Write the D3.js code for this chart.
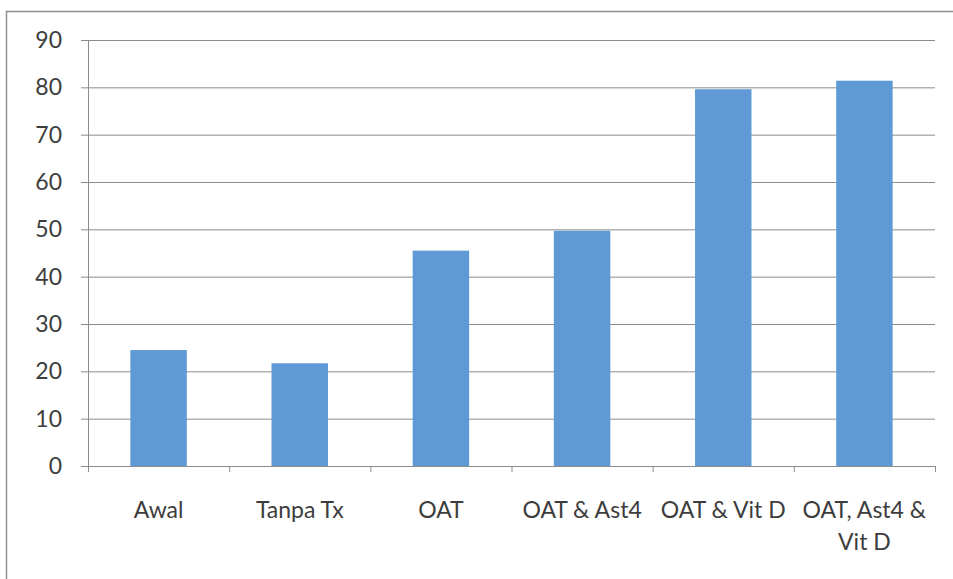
<!DOCTYPE html>
<html>
<head>
<meta charset="utf-8">
<script src="https://cdn.jsdelivr.net/npm/d3@7"></script>
<style>
  html, body { margin: 0; padding: 0; background: #fff; }
  svg { display: block; }
  text { font-family: Lato, "Open Sans", sans-serif; fill: #3d3d3d; }
</style>
</head>
<body>
<svg id="chart" width="953" height="579"></svg>
<script>
// Categories and values
const categories = ["Awal", "Tanpa Tx", "OAT", "OAT & Ast4", "OAT & Vit D", "OAT, Ast4 & Vit D"];
const values = [24.5, 21.7, 45.5, 49.7, 79.6, 81.4];
const yTicks = [0, 10, 20, 30, 40, 50, 60, 70, 80, 90];

const svg = d3.select("#chart");
const W = 953, H = 579;
const margin = { left: 88, right: 18, top: 40, bottom: 113 };

// Outer frame (left and top edges)
svg.append("path")
  .attr("d", `M6.5,${H} L6.5,11.5 L${W},11.5`)
  .attr("fill", "none")
  .attr("stroke", "#8f8f8f")
  .attr("stroke-width", 1.5);

const x = d3.scaleBand()
  .domain(categories)
  .range([margin.left, W - margin.right])
  .paddingInner(0.6)
  .paddingOuter(0.3);

const y = d3.scaleLinear()
  .domain([0, 90])
  .range([H - margin.bottom, margin.top]);

// Horizontal gridlines with left tick labels
const gridLen = W - margin.right - margin.left + 7;
const yAxis = d3.axisLeft(y)
  .tickValues(yTicks)
  .tickSize(0)
  .tickFormat(d3.format("d"));

const gy = svg.append("g")
  .attr("transform", `translate(${margin.left - 7},0)`)
  .call(yAxis);
gy.select(".domain").remove();
gy.selectAll(".tick line")
  .attr("x1", 0)
  .attr("x2", gridLen)
  .attr("stroke", "#8c8c8c")
  .attr("stroke-width", 1);
gy.selectAll(".tick text")
  .attr("font-size", 23)
  .attr("x", -19)
  .style("font-family", "Lato, 'Open Sans', sans-serif")
  .style("fill", "#3d3d3d");

// Vertical axis line
svg.append("line")
  .attr("x1", margin.left + 0.5).attr("x2", margin.left + 0.5)
  .attr("y1", y(90)).attr("y2", y(0))
  .attr("stroke", "#8c8c8c");

// Bars
svg.append("g")
  .selectAll("rect")
  .data(categories)
  .join("rect")
  .attr("x", d => x(d))
  .attr("width", x.bandwidth())
  .attr("y", (d, i) => y(values[i]))
  .attr("height", (d, i) => y(0) - y(values[i]))
  .attr("fill", "#5f9ad6");

// Category axis with boundary ticks
const step = x.step();
const boundaries = d3.range(categories.length + 1).map(i => margin.left + i * (W - margin.right - margin.left) / categories.length);
svg.append("line")
  .attr("x1", margin.left).attr("x2", W - margin.right)
  .attr("y1", y(0) + 0.5).attr("y2", y(0) + 0.5)
  .attr("stroke", "#8c8c8c");
svg.append("g")
  .selectAll("line")
  .data(boundaries)
  .join("line")
  .attr("x1", d => d + 0.5).attr("x2", d => d + 0.5)
  .attr("y1", y(0)).attr("y2", y(0) + 6)
  .attr("stroke", "#8c8c8c");

// Category labels, wrapped to the band width
const labelG = svg.append("g");
categories.forEach(c => {
  const cx = x(c) + x.bandwidth() / 2;
  const t = labelG.append("text")
    .attr("x", cx)
    .attr("y", 518)
    .attr("text-anchor", "middle")
    .attr("font-size", 23);
  const words = c.split(" ");
  let line = [];
  let tspan = t.append("tspan").attr("x", cx).attr("dy", 0);
  words.forEach(w => {
    line.push(w);
    tspan.text(line.join(" "));
    if (tspan.node().getComputedTextLength() > step - 6 && line.length > 1) {
      line.pop();
      tspan.text(line.join(" "));
      line = [w];
      tspan = t.append("tspan")
        .attr("x", cx)
        .attr("dy", 32)
        .text(w);
    }
  });
});
</script>
</body>
</html>
